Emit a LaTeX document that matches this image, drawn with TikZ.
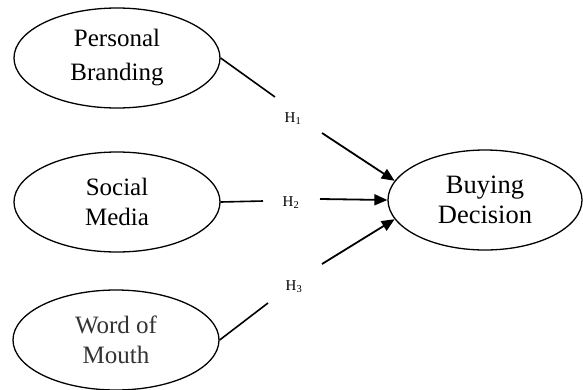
\documentclass[tikz,border=0pt]{standalone}
\usepackage{fontspec}
\setmainfont{Liberation Serif}
\usetikzlibrary{arrows.meta,shapes.geometric}
\begin{document}
\begin{tikzpicture}[x=1pt,y=-1pt,
  construct/.style={ellipse,draw,line width=1.3pt,minimum width=206pt,minimum height=100pt,inner sep=0pt,align=center,font=\fontsize{25}{30}\selectfont},
  hyp/.style={font=\fontsize{15}{17}\selectfont,inner sep=1pt},
  link/.style={line width=1.6pt},
  arr/.style={line width=1.8pt,-{Triangle[length=13pt,width=11pt]}}]
\useasboundingbox (0,0) rectangle (583,389);
\node[construct] (pb) at (117,58) {Personal\\[4pt]Branding};
\node[construct] (sm) at (117,202) {Social\\Media};
\node[construct,text=black!80] (wm) at (116,340) {Word of\\Mouth};
\node[construct,minimum width=194pt,font=\fontsize{26.5}{30}\selectfont] (bd) at (485,200) {Buying\\Decision};
\node[hyp] (h1) at (293,119) {H\textsubscript{1}};
\node[hyp] (h2) at (291,203) {H\textsubscript{2}};
\node[hyp] (h3) at (294,287) {H\textsubscript{3}};
\coordinate (a1) at (275,97);
\coordinate (b1) at (322,133);
\coordinate (a2) at (263,201);
\coordinate (b2) at (320,199);
\coordinate (a3) at (268,303);
\coordinate (b3) at (322,264);
\draw[link] (pb.east) -- (a1);
\draw[link] (sm.east) -- (a2);
\draw[link] (wm.east) -- (a3);
\draw[arr] (b1) -- (bd.168);
\draw[arr] (b2) -- (bd.west);
\draw[arr] (b3) -- (bd.192);
\end{tikzpicture}
\end{document}
